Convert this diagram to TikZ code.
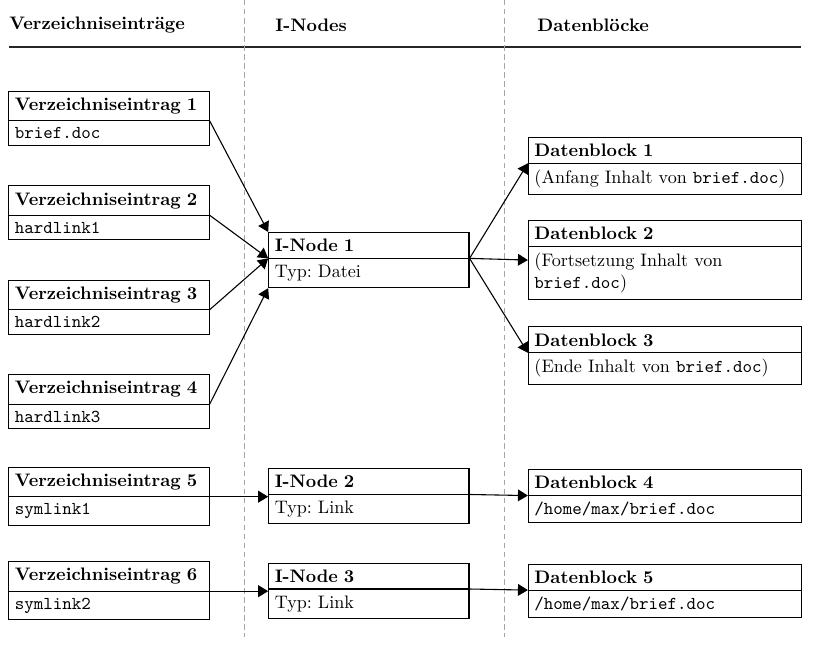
\documentclass[tikz,border=0pt]{standalone}
\usetikzlibrary{arrows.meta,positioning,shapes.multipart}
\tikzset{node distance=52.2pt and 143.6pt, % row pitch and column pitch (centre to centre)
        on grid,
        twobox/.style={ % box with bold title and content below
            draw,
            semithick,
            rectangle split,
            rectangle split parts=2,
            align=left,
            font=\frenchspacing,
            text width=104pt},
        blockbox/.style={ % wider boxes for the data blocks
            twobox,
            text width=144pt},
        header/.style={ % column titles
            font=\bfseries,
            inner sep=0pt,
            anchor=west},
        link/.style={ % connectors
            draw,
            semithick,
            ->,>={Triangle[length=5.5pt,width=6.5pt]}},
        column/.style={ % separators between the columns
            dashed,
            gray!70,
            dash pattern=on 3pt off 2pt}
        }
\begin{document}
\begin{tikzpicture}
    \useasboundingbox (0,0) rectangle (451.4pt,-357.5pt);

    % column titles
    \node[header] (h1) at (5pt,-13.8pt)     {Verzeichniseinträge};
    \node[header] (h2) at (152pt,-13.8pt)   {I-Nodes};
    \node[header] (h3) at (296.7pt,-13.8pt) {Datenblöcke};

    \coordinate (rl) at (5pt,-26pt);
    \coordinate (rr) at (442.5pt,-26pt);
    \draw[line width=1pt,black!85] (rl) -- (rr);

    \coordinate (c1t) at (134.8pt,0);
    \coordinate (c1b) at (134.8pt,-352pt);
    \coordinate (c2t) at (278.5pt,0);
    \coordinate (c2b) at (278.5pt,-352pt);
    \draw[column] (c1t) -- (c1b);
    \draw[column] (c2t) -- (c2b);

    % directory entries
    \node[twobox] (ve1) at (60.2pt,-65.4pt) {\textbf{Verzeichniseintrag 1}\nodepart{second}\texttt{brief.doc}};
    \node[twobox] (ve2) [below=of ve1] {\textbf{Verzeichniseintrag 2}\nodepart{second}\texttt{hardlink1}};
    \node[twobox] (ve3) [below=of ve2] {\textbf{Verzeichniseintrag 3}\nodepart{second}\texttt{hardlink2}};
    \node[twobox] (ve4) [below=of ve3] {\textbf{Verzeichniseintrag 4}\nodepart{second}\texttt{hardlink3}};
    \node[twobox] (ve5) [below=of ve4] {\textbf{Verzeichniseintrag 5}\nodepart{second}\texttt{symlink1}};
    \node[twobox] (ve6) [below=of ve5] {\textbf{Verzeichniseintrag 6}\nodepart{second}\texttt{symlink2}};

    % i-nodes
    \node[twobox] (in1) [below right=26.1pt and 143.6pt of ve2] {\textbf{I-Node 1}\nodepart{second}Typ: Datei};
    \node[twobox] (in2) [right=of ve5] {\textbf{I-Node 2}\nodepart{second}Typ: Link};
    \node[twobox] (in3) [right=of ve6] {\textbf{I-Node 3}\nodepart{second}Typ: Link};

    % data blocks
    \node[blockbox] (db1) [above right=52pt and 163.5pt of in1] {\textbf{Datenblock 1}\nodepart{second}(Anfang Inhalt von \texttt{brief.doc})};
    \node[blockbox] (db2) [right=163.5pt of in1] {\textbf{Datenblock 2}\nodepart{second}(Fortsetzung Inhalt von\\\texttt{brief.doc})};
    \node[blockbox] (db3) [below right=52.7pt and 163.5pt of in1] {\textbf{Datenblock 3}\nodepart{second}(Ende Inhalt von \texttt{brief.doc})};
    \node[blockbox] (db4) [right=163.5pt of in2] {\textbf{Datenblock 4}\nodepart{second}\texttt{/home/max/brief.doc}};
    \node[blockbox] (db5) [right=163.5pt of in3] {\textbf{Datenblock 5}\nodepart{second}\texttt{/home/max/brief.doc}};

    \draw[link] (ve1.text split east) -- (in1.north west);
    \draw[link] (ve2.text split east) -- (in1.text split west);
    \draw[link] (ve3.text split east) -- (in1.text split west);
    \draw[link] (ve4.text split east) -- (in1.south west);
    \draw[link] (ve5.text split east) -- (ve5.text split east -| in2.west);
    \draw[link] (ve6.text split east) -- (ve6.text split east -| in3.west);

    \draw[link] (in1.text split east) -- (db1.text split west);
    \draw[link] (in1.text split east) -- (db2.west);
    \draw[link] (in1.text split east) -- (db3.text split west);
    \draw[link] (in2.text split east) -- (db4.text split west);
    \draw[link] (in3.text split east) -- (db5.text split west);
\end{tikzpicture}
\end{document}
